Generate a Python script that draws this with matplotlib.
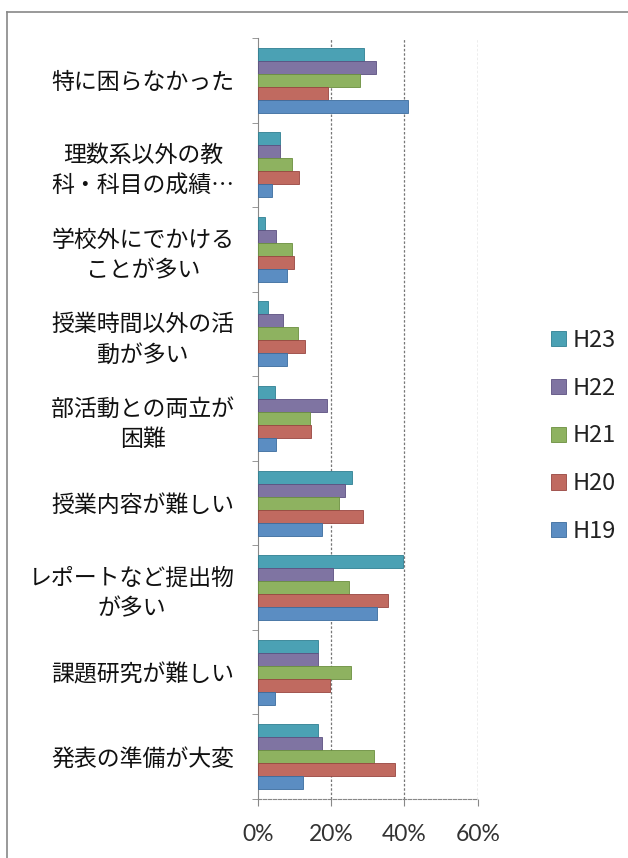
import matplotlib
matplotlib.use("Agg")
import matplotlib.pyplot as plt
from matplotlib.patches import Rectangle
from matplotlib.lines import Line2D
import numpy as np

plt.rcParams['font.family'] = ['Noto Sans CJK JP', 'DejaVu Sans']

categories = [
    "特に困らなかった",
    "理数系以外の教\n科・科目の成績…",
    "学校外にでかける\nことが多い",
    "授業時間以外の活\n動が多い",
    "部活動との両立が\n困難",
    "授業内容が難しい",
    "レポートなど提出物\nが多い",
    "課題研究が難しい",
    "発表の準備が大変",
]
series_names = ["H23", "H22", "H21", "H20", "H19"]
h23 = [28.9, 5.9, 1.8, 2.7, 4.6, 25.6, 39.5, 16.4, 16.4]
h22 = [32.1, 5.9, 4.9, 6.8, 18.8, 23.8, 20.5, 16.4, 17.5]
h21 = [27.8, 9.3, 9.3, 10.8, 14.2, 22.2, 24.8, 25.3, 31.6]
h20 = [19.2, 11.1, 9.8, 12.9, 14.6, 28.6, 35.6, 19.6, 37.5]
h19 = [40.9, 3.8, 7.8, 7.8, 4.8, 17.6, 32.5, 4.6, 12.4]
series_values = [h23, h22, h21, h20, h19]
series_colors = ["#4ba1b4", "#7f74a2", "#8eb260", "#c06a60", "#5b8dc2"]
edge_colors = ["#2f7f92", "#5c5080", "#6a8f3e", "#984640", "#3b6c9e"]
xticks = [0, 20, 40, 60]
xtick_labels = ["0%", "20%", "40%", "60%"]

fig = plt.figure(figsize=(6.28, 8.58), dpi=100)
ax = fig.add_axes([258 / 628, 1 - 799 / 858, (477.7 - 258) / 628, (799 - 38) / 858])

n_cat = len(categories)
n_ser = len(series_names)
group_h = 0.77
bar_h = group_h / n_ser
y = np.arange(n_cat)
for i, (name, vals) in enumerate(zip(series_names, series_values)):
    offs = -group_h / 2 + bar_h * (i + 0.5)
    ax.barh(y + offs, vals, height=bar_h, color=series_colors[i],
            edgecolor=edge_colors[i], linewidth=0.6, label=name, zorder=3)

ax.set_xlim(0, 60)
ax.set_ylim(n_cat - 0.5, -0.5)
ax.set_xticks(xticks)
ax.set_xticklabels(xtick_labels, family=['Lato', 'DejaVu Sans'], fontsize=16.5, color="#333333")
ax.tick_params(axis='x', length=5, color="#888888", pad=13)

ax.set_yticks(y)
ax.set_yticklabels(categories, fontsize=16.5, color="#111111", linespacing=1.4,
                   multialignment='center')
ax.tick_params(axis='y', which='major', length=0, pad=17)
ax.set_yticks(np.arange(n_cat + 1) - 0.5, minor=True)
ax.tick_params(axis='y', which='minor', length=4, color="#888888")

for xv in xticks[1:]:
    ax.axvline(xv, color="#777777", linestyle=(0, (2, 1.5)), linewidth=0.9, zorder=1)

for s in ["top", "right"]:
    ax.spines[s].set_visible(False)
ax.spines["left"].set_color("#888888")
ax.spines["bottom"].set_color("#888888")
ax.spines["bottom"].set_linestyle((0, (3, 1.5)))

# legend on the right
handles = [Rectangle((0, 0), 1, 1, facecolor=c, edgecolor=e, linewidth=0.6)
           for c, e in zip(series_colors, edge_colors)]
fig.legend(handles, series_names, loc='center left',
           bbox_to_anchor=(530 / 628, 1 - 436 / 858), frameon=False,
           fontsize=17, handlelength=0.62, handleheight=0.62,
           handletextpad=0.3, labelspacing=1.05, labelcolor="#222222")

# outer frame of the chart
fig.add_artist(Line2D([7 / 628, 7 / 628], [0, 1 - 12 / 858], transform=fig.transFigure,
                      color="#888888", linewidth=1.2))
fig.add_artist(Line2D([7 / 628, 1], [1 - 12 / 858, 1 - 12 / 858], transform=fig.transFigure,
                      color="#888888", linewidth=1.2))

fig.savefig("out.png", dpi=100, facecolor="white")
